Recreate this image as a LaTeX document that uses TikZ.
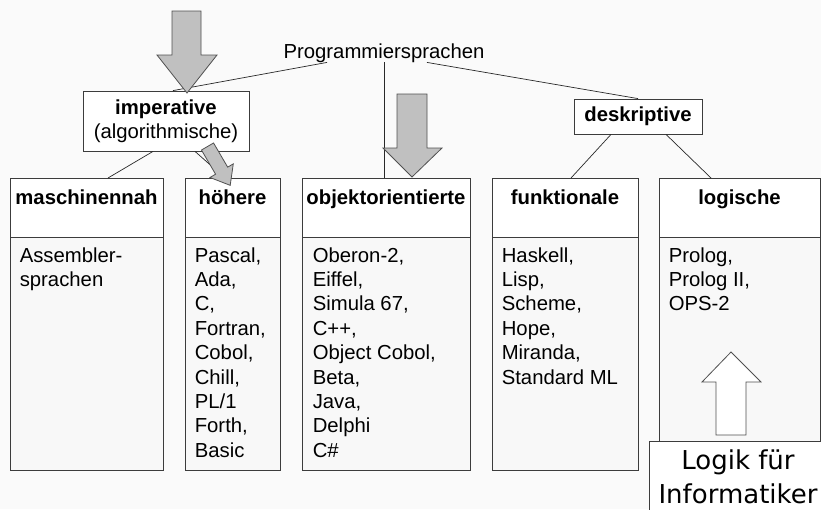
\documentclass[tikz,border=0pt]{standalone}
\usepackage{fontspec}
\setmainfont{Liberation Sans}
\newfontfamily\djv{DejaVu Sans}
\definecolor{bgcol}{RGB}{250,250,250}
\definecolor{bodyfill}{RGB}{248,248,248}
\definecolor{boxline}{RGB}{60,60,60}
\definecolor{linecol}{RGB}{40,40,40}
\definecolor{arrfill}{RGB}{192,192,192}
\definecolor{arrline}{RGB}{80,80,80}
\begin{document}
\begin{tikzpicture}[x=1pt,y=-1pt,
  hdr/.style={draw=boxline, fill=white, line width=0.8pt, inner sep=0pt, text height=26pt, text depth=33pt, anchor=north, font=\bfseries\fontsize{20.3}{24.3}\selectfont},
  bodybox/.style={draw=boxline, fill=bodyfill, line width=0.8pt, inner sep=0pt, minimum height=233pt, anchor=north},
  list/.style={anchor=base west, align=left, inner sep=0pt, font=\fontsize{20.3}{24.4}\selectfont},
  conn/.style={draw=linecol, line width=0.7pt},
  bigarrow/.style={draw=arrline, fill=arrfill, line width=0.8pt, line join=miter},
  whitearrow/.style={draw=arrline, fill=white, line width=0.8pt, line join=miter}]
\useasboundingbox (0,0) rectangle (821,509);
\clip (0,0) rectangle (821,509);
\fill[bgcol] (0,0) rectangle (821,509);

% title
\node[inner sep=0pt, anchor=base, font=\fontsize{20.3}{24.3}\selectfont] (prog) at (384,58) {Programmiersprachen};

% group boxes
\node[draw=boxline, fill=white, line width=0.8pt, minimum width=166pt, minimum height=60pt, inner sep=0pt, align=center, font=\fontsize{20.3}{24.3}\selectfont] (imp) at (166,121) {\textbf{imperative}\\(algorithmische)};
\node[draw=boxline, fill=white, line width=0.8pt, minimum width=128pt, minimum height=35pt, inner sep=0pt, font=\bfseries\fontsize{20.3}{24.3}\selectfont] (desk) at (638,116.5) {deskriptive};

% columns
\node[hdr, minimum width=153pt] (mh) at (86.5,178) {maschinennah};
\node[bodybox, minimum width=153pt] (mb) at (86.5,237) {};
\node[list] (mt) at ([xshift=10pt, yshift=-49.4pt]mb.north west) {Assembler-\\sprachen};

\node[hdr, minimum width=95pt] (hh) at (232.5,178) {höhere};
\node[bodybox, minimum width=95pt] (hb) at (232.5,237) {};
\node[list] (ht) at ([xshift=10pt, yshift=-220.2pt]hb.north west) {Pascal,\\Ada,\\C,\\Fortran,\\Cobol,\\Chill,\\PL/1\\Forth,\\Basic};

\node[hdr, minimum width=168pt] (oh) at (386,178) {objektorientierte};
\node[bodybox, minimum width=168pt] (ob) at (386,237) {};
\node[list] (ot) at ([xshift=11pt, yshift=-220.2pt]ob.north west) {Oberon-2,\\Eiffel,\\Simula 67,\\C++,\\Object Cobol,\\Beta,\\Java,\\Delphi\\C\#};

\node[hdr, minimum width=146pt] (fh) at (565,178) {funktionale};
\node[bodybox, minimum width=146pt] (fb) at (565,237) {};
\node[list] (ft) at ([xshift=10pt, yshift=-147pt]fb.north west) {Haskell,\\Lisp,\\Scheme,\\Hope,\\Miranda,\\Standard ML};

\node[hdr, minimum width=161pt] (lh) at (739.5,178) {logische};
\node[bodybox, minimum width=161pt] (lb) at (739.5,237) {};
\node[list] (lt) at ([xshift=10pt, yshift=-73.8pt]lb.north west) {Prolog,\\Prolog II,\\OPS-2};

% connectors
\draw[conn] ([xshift=-57pt]prog.south) -- ([xshift=7pt]imp.north);
\draw[conn] ([xshift=43pt]prog.south) -- (desk.north);
\draw[conn] (prog.south) -- (prog.south |- oh.north);
\draw[conn] ([xshift=-13pt]imp.south) -- ([xshift=21.5pt]mh.north);
\draw[conn] ([xshift=29pt]imp.south) -- ([xshift=-7.5pt]hh.north);
\draw[conn] ([xshift=-27pt]desk.south) -- ([xshift=6pt]fh.north);
\draw[conn] ([xshift=28pt]desk.south) -- ([xshift=-28.5pt]lh.north);

% big arrows
\draw[bigarrow] (172,11) -- (201,11) -- (201,55) -- (217,55) -- (187,93) -- (157,55) -- (172,55) -- cycle;
\draw[bigarrow] (397,94) -- (427,94) -- (427,148) -- (442,148) -- (412,177) -- (383,148) -- (397,148) -- cycle;
\begin{scope}[shift={(207.5,146.5)}, rotate=-59.7]
\draw[bigarrow] (0,-7) -- (28,-7) -- (28,-13.5) -- (45,0) -- (28,13.5) -- (28,7) -- (0,7) -- cycle;
\end{scope}

% Logik box
\node[draw=boxline, fill=white, line width=0.8pt, minimum width=200pt, minimum height=100pt, anchor=north west, inner sep=0pt] (lbox) at (649,441) {};
\node[anchor=base, align=center, inner sep=0pt, font=\djv\fontsize{26}{34}\selectfont] (ltext) at (738,503) {Logik für\\Informatiker};
\draw[whitearrow] (716,435) -- (746,435) -- (746,382) -- (761,382) -- (731,352) -- (702,382) -- (716,382) -- cycle;
\end{tikzpicture}
\end{document}
